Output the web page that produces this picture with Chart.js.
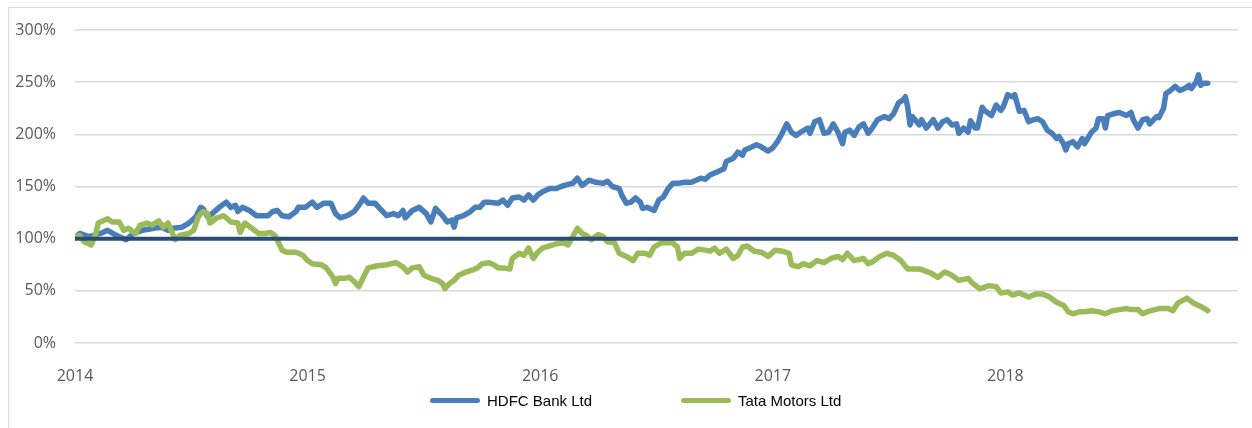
<!DOCTYPE html>
<html>
<head>
<meta charset="utf-8">
<script src="https://cdn.jsdelivr.net/npm/chart.js@4.4.1/dist/chart.umd.min.js"></script>
<style>
  html, body { margin: 0; padding: 0; background: #fff; }
  body { width: 1252px; height: 428px; position: relative; overflow: hidden; }
  #frame { position: absolute; left: 8px; top: 7px; width: 1400px; height: 600px;
           border-left: 1px solid #d9d9d9; border-top: 1px solid #d9d9d9; }
  #chart { position: absolute; left: 0; top: 0; }
  .legend-item { position: absolute; top: 392px; display: flex; align-items: center;
                 font-family: "Liberation Sans", Arial, sans-serif; font-size: 15px; color: #000; }
  .legend-line { width: 50px; height: 5px; border-radius: 3px; margin-right: 7px; }
</style>
</head>
<body>
<div id="frame"></div>
<canvas id="chart" width="1252" height="428"></canvas>
<div class="legend-item" style="left:430px"><span class="legend-line" style="background:#4A7EBB"></span>HDFC Bank Ltd</div>
<div class="legend-item" style="left:681px"><span class="legend-line" style="background:#9BBB59"></span>Tata Motors Ltd</div>
<script>
// values: [year, % of start value]
const hdfc = [
  [2014.00,101],[2014.02,105],[2014.06,102],[2014.11,105],[2014.14,108],[2014.18,103],[2014.22,99],[2014.25,105],
  [2014.29,108],[2014.34,110],[2014.37,111],[2014.40,108],[2014.42,110],[2014.46,111],[2014.49,115],[2014.52,121],
  [2014.54,130],[2014.55,129],[2014.57,121],[2014.59,124],[2014.62,130],[2014.65,135],[2014.67,130],[2014.69,132],
  [2014.70,126],[2014.72,130],[2014.75,127],[2014.78,122],[2014.83,122],[2014.85,126],[2014.87,127],[2014.89,122],
  [2014.92,121],[2014.95,126],[2014.96,130],[2014.99,130],[2015.02,135],[2015.04,130],[2015.07,134],[2015.10,134],
  [2015.12,124],[2015.14,120],[2015.17,122],[2015.20,126],[2015.23,135],[2015.24,139],[2015.26,134],[2015.29,134],
  [2015.31,129],[2015.34,122],[2015.37,124],[2015.39,122],[2015.41,127],[2015.42,120],[2015.45,127],[2015.48,130],
  [2015.51,124],[2015.53,116],[2015.55,129],[2015.58,122],[2015.60,116],[2015.62,118],[2015.63,111],[2015.64,120],
  [2015.67,122],[2015.70,126],[2015.72,130],[2015.74,130],[2015.76,135],[2015.78,135],[2015.82,134],[2015.84,137],
  [2015.86,132],[2015.88,139],[2015.91,140],[2015.93,137],[2015.95,142],[2015.97,137],[2015.99,142],[2016.01,145],
  [2016.04,148],[2016.07,148],[2016.09,150],[2016.12,152],[2016.14,153],[2016.16,158],[2016.18,151],[2016.21,156],
  [2016.24,154],[2016.27,153],[2016.29,155],[2016.31,150],[2016.34,148],[2016.35,142],[2016.37,134],[2016.39,135],
  [2016.41,139],[2016.43,135],[2016.44,129],[2016.46,130],[2016.49,127],[2016.51,137],[2016.53,140],[2016.55,148],
  [2016.57,153],[2016.59,153],[2016.62,154],[2016.65,154],[2016.67,156],[2016.69,158],[2016.71,157],[2016.73,161],
  [2016.76,164],[2016.79,167],[2016.80,174],[2016.83,177],[2016.85,183],[2016.87,180],[2016.88,185],[2016.90,187],
  [2016.93,190],[2016.95,188],[2016.98,184],[2017.00,187],[2017.02,193],[2017.04,201],[2017.06,210],[2017.08,202],
  [2017.10,199],[2017.12,202],[2017.15,206],[2017.16,201],[2017.18,212],[2017.20,214],[2017.22,201],[2017.24,202],
  [2017.26,210],[2017.28,202],[2017.30,191],[2017.31,202],[2017.33,204],[2017.35,199],[2017.37,207],[2017.39,210],
  [2017.41,201],[2017.43,207],[2017.45,214],[2017.48,217],[2017.50,215],[2017.52,220],[2017.54,230],[2017.56,233],
  [2017.57,236],[2017.58,226],[2017.59,209],[2017.60,217],[2017.63,209],[2017.64,214],[2017.66,206],[2017.69,214],
  [2017.71,206],[2017.73,212],[2017.75,214],[2017.77,209],[2017.79,210],[2017.80,201],[2017.82,206],[2017.84,202],
  [2017.85,213],[2017.87,206],[2017.88,206],[2017.90,226],[2017.91,223],[2017.94,218],[2017.96,228],[2017.98,223],
  [2017.99,226],[2018.01,238],[2018.03,236],[2018.04,238],[2018.06,222],[2018.08,223],[2018.10,212],[2018.12,214],
  [2018.14,215],[2018.16,212],[2018.18,204],[2018.20,201],[2018.22,196],[2018.23,198],[2018.25,191],[2018.26,185],
  [2018.27,191],[2018.29,193],[2018.31,188],[2018.33,196],[2018.34,191],[2018.37,202],[2018.39,206],[2018.40,215],
  [2018.42,215],[2018.43,206],[2018.44,218],[2018.47,220],[2018.49,221],[2018.52,218],[2018.54,221],[2018.55,214],
  [2018.57,206],[2018.59,214],[2018.61,215],[2018.62,210],[2018.65,217],[2018.66,216],[2018.68,225],[2018.69,239],
  [2018.71,242],[2018.73,246],[2018.75,242],[2018.77,244],[2018.79,247],[2018.80,244],[2018.82,250],[2018.83,257],
  [2018.84,247],[2018.85,249],[2018.87,249]
];

const tata = [
  [2014.00,101],[2014.02,103],[2014.04,97],[2014.07,94],[2014.09,105],[2014.10,115],[2014.14,119],[2014.16,116],
  [2014.19,116],[2014.21,108],[2014.23,110],[2014.26,105],[2014.28,113],[2014.31,115],[2014.33,113],[2014.36,117],
  [2014.38,111],[2014.40,115],[2014.41,110],[2014.43,99],[2014.45,103],[2014.49,105],[2014.51,108],[2014.53,121],
  [2014.55,126],[2014.57,124],[2014.58,115],[2014.61,120],[2014.64,122],[2014.67,116],[2014.70,115],[2014.71,106],
  [2014.73,115],[2014.76,110],[2014.79,105],[2014.82,105],[2014.84,106],[2014.86,103],[2014.88,94],[2014.89,89],
  [2014.91,87],[2014.95,87],[2014.98,84],[2015.00,79],[2015.02,76],[2015.06,75],[2015.08,72],[2015.11,63],
  [2015.12,57],[2015.13,62],[2015.16,62],[2015.18,63],[2015.20,59],[2015.22,54],[2015.24,63],[2015.26,72],
  [2015.30,74],[2015.34,75],[2015.38,77],[2015.41,73],[2015.43,68],[2015.45,72],[2015.48,73],[2015.50,65],
  [2015.53,62],[2015.56,60],[2015.58,57],[2015.59,52],[2015.61,57],[2015.63,60],[2015.65,65],[2015.68,68],
  [2015.71,70],[2015.73,72],[2015.75,76],[2015.78,77],[2015.80,75],[2015.82,72],[2015.84,72],[2015.87,71],
  [2015.88,81],[2015.91,86],[2015.93,84],[2015.95,91],[2015.97,81],[2015.99,87],[2016.01,91],[2016.04,93],
  [2016.07,95],[2016.10,96],[2016.12,94],[2016.14,102],[2016.16,110],[2016.18,105],[2016.20,103],[2016.22,99],
  [2016.25,104],[2016.27,102],[2016.29,97],[2016.32,96],[2016.34,86],[2016.37,83],[2016.40,79],[2016.42,86],
  [2016.45,86],[2016.47,84],[2016.49,92],[2016.52,96],[2016.55,96],[2016.57,96],[2016.59,92],[2016.60,81],
  [2016.62,86],[2016.65,86],[2016.68,90],[2016.71,89],[2016.73,88],[2016.75,91],[2016.77,86],[2016.80,90],
  [2016.83,81],[2016.85,84],[2016.87,92],[2016.89,93],[2016.92,88],[2016.95,87],[2016.98,83],[2017.01,89],
  [2017.04,88],[2017.07,86],[2017.08,75],[2017.11,73],[2017.13,76],[2017.16,74],[2017.19,79],[2017.22,77],
  [2017.25,81],[2017.28,83],[2017.30,80],[2017.32,86],[2017.35,79],[2017.39,81],[2017.41,76],[2017.43,78],
  [2017.46,83],[2017.49,86],[2017.52,84],[2017.55,79],[2017.58,71],[2017.60,71],[2017.63,71],[2017.68,67],
  [2017.71,63],[2017.74,68],[2017.77,65],[2017.80,60],[2017.84,62],[2017.86,57],[2017.89,52],[2017.93,55],
  [2017.96,54],[2017.98,48],[2018.01,49],[2018.03,46],[2018.06,48],[2018.10,44],[2018.13,47],[2018.16,47],
  [2018.19,44],[2018.22,39],[2018.25,36],[2018.27,30],[2018.29,28],[2018.32,30],[2018.34,30],[2018.37,31],
  [2018.40,30],[2018.43,28],[2018.46,31],[2018.49,32],[2018.52,33],[2018.54,32],[2018.57,32],[2018.59,28],
  [2018.61,30],[2018.66,33],[2018.70,33],[2018.72,31],[2018.74,38],[2018.78,43],[2018.81,38],[2018.84,35],
  [2018.87,31]
];

// reference line at 100%
const baseline = [[2014, 100], [2019, 100]];

const yearTicks = [2014, 2015, 2016, 2017, 2018];

const toPoints = arr => arr.map(([x, y]) => ({ x, y }));

new Chart(document.getElementById('chart'), {
  type: 'line',
  data: {
    datasets: [
      {
        label: 'Base',
        data: toPoints(baseline),
        borderColor: '#2B4C7A',
        borderWidth: 4,
        pointRadius: 0,
        order: 0
      },
      {
        label: 'Tata Motors Ltd',
        data: toPoints(tata),
        borderColor: '#9BBB59',
        borderWidth: 5.5,
        pointRadius: 0,
        borderJoinStyle: 'round',
        borderCapStyle: 'round',
        order: 1
      },
      {
        label: 'HDFC Bank Ltd',
        data: toPoints(hdfc),
        borderColor: '#4A7EBB',
        borderWidth: 5.5,
        pointRadius: 0,
        borderJoinStyle: 'round',
        borderCapStyle: 'round',
        order: 2
      }
    ]
  },
  options: {
    responsive: false,
    devicePixelRatio: 1,
    animation: false,
    layout: { padding: { top: 30, right: 14, bottom: 45, left: 0 } },
    plugins: {
      legend: { display: false },
      tooltip: { enabled: false }
    },
    scales: {
      x: {
        type: 'linear',
        min: 2014,
        max: 2019,
        grid: { display: false },
        border: { display: false },
        afterBuildTicks: scale => { scale.ticks = yearTicks.map(v => ({ value: v })); },
        afterFit: scale => { scale.height = 40; },
        ticks: {
          padding: 16,
          color: '#595959',
          font: { family: 'Open Sans', size: 16 },
          callback: v => String(v)
        }
      },
      y: {
        min: 0,
        max: 300,
        grid: { color: '#d9d9d9', lineWidth: 1.5, drawTicks: false },
        border: { display: false },
        afterFit: scale => { scale.width = 75; },
        ticks: {
          stepSize: 50,
          padding: 19,
          color: '#595959',
          font: { family: 'Open Sans', size: 16 },
          callback: v => v + '%'
        }
      }
    }
  }
});
</script>
</body>
</html>
